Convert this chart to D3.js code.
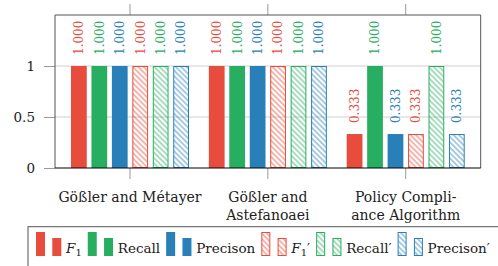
<!DOCTYPE html>
<html>
<head>
<meta charset="utf-8">
<script src="https://cdn.jsdelivr.net/npm/d3@7"></script>
<style>
  body { margin: 0; background: #fff; }
  text { font-family: "DejaVu Serif", serif; }
</style>
</head>
<body>
<div id="chart"></div>
<script>
const width = 498;
const height = 266;

// data
const categories = ['Gößler and Métayer', 'Gößler and Astefanoaei', 'Policy Compliance Algorithm'];
const categoryLines = [['Gößler and Métayer'], ['Gößler and', 'Astefanoaei'], ['Policy Compli-', 'ance Algorithm']];
const seriesNames = ['F1', 'Recall', 'Precison', "F1'", "Recall'", "Precison'"];
const f1 = [1.000, 1.000, 0.333];
const recall = [1.000, 1.000, 1.000];
const precision = [1.000, 1.000, 0.333];
const f1b = [1.000, 1.000, 0.333];
const recallb = [1.000, 1.000, 1.000];
const precisionb = [1.000, 1.000, 0.333];
const yTicks = [0, 0.5, 1];

const seriesValues = [f1, recall, precision, f1b, recallb, precisionb];
const colors = ['#e74c3c', '#27ae60', '#2980b9', '#e74c3c', '#27ae60', '#2980b9'];
const hatched = [false, false, false, true, true, true];

const plot = { left: 55, right: 480.7, top: 15, bottom: 168 };

let svg = d3.select('#chart').append('svg')
  .attr('width', width)
  .attr('height', height);

// hatch patterns
let defs = svg.append('defs');
['#e74c3c', '#27ae60', '#2980b9'].forEach((c, i) => {
  let p = defs.append('pattern')
    .attr('id', 'hatch' + i)
    .attr('patternUnits', 'userSpaceOnUse')
    .attr('width', 3.8)
    .attr('height', 3.8)
    .attr('patternTransform', 'rotate(-45)');
  p.append('line')
    .attr('x1', 1).attr('y1', 0)
    .attr('x2', 1).attr('y2', 3.8)
    .style('stroke', c)
    .style('stroke-width', 0.8);
});

// scales
let x = d3.scalePoint()
  .domain(categories)
  .range([plot.left, plot.right])
  .padding(0.544);

let xs = d3.scaleBand()
  .domain(seriesNames)
  .range([-59, 59])
  .paddingInner(0.23)
  .paddingOuter(0);

let y = d3.scaleLinear()
  .domain([0, 1.5])
  .range([plot.bottom, plot.top]);

// grid
svg.append('g')
  .selectAll('line')
  .data(yTicks.filter(d => d > 0))
  .join('line')
  .attr('x1', plot.left).attr('x2', plot.right)
  .attr('y1', d => y(d)).attr('y2', d => y(d))
  .style('stroke', '#cfcfcf')
  .style('stroke-width', 1);

// y axis
let yAxis = svg.append('g')
  .attr('transform', `translate(${plot.left},0)`)
  .call(d3.axisLeft(y).tickValues(yTicks).tickSize(11).tickPadding(9).tickFormat(d3.format('')));
yAxis.select('.domain').remove();
yAxis.selectAll('.tick line').style('stroke', '#999');
yAxis.selectAll('.tick text')
  .style('font-family', '"DejaVu Serif", serif')
  .style('font-size', '13.5px')
  .style('fill', '#222');

// x ticks above and below the frame
let xTicks = svg.append('g');
categories.forEach(c => {
  xTicks.append('line')
    .attr('x1', x(c)).attr('x2', x(c))
    .attr('y1', plot.top - 11).attr('y2', plot.top)
    .style('stroke', '#999');
  xTicks.append('line')
    .attr('x1', x(c)).attr('x2', x(c))
    .attr('y1', plot.bottom).attr('y2', plot.bottom + 11)
    .style('stroke', '#999');
});

// bars
seriesNames.forEach((s, si) => {
  let g = svg.append('g');
  let vals = seriesValues[si];
  g.selectAll('rect')
    .data(vals)
    .join('rect')
    .attr('x', (d, i) => x(categories[i]) + xs(s) + (hatched[si] ? 0.5 : 0))
    .attr('y', d => y(d) + (hatched[si] ? 0.5 : 0))
    .attr('width', xs.bandwidth() - (hatched[si] ? 1 : 0))
    .attr('height', d => y(0) - y(d) - (hatched[si] ? 1 : 0))
    .style('fill', hatched[si] ? `url(#hatch${si - 3})` : colors[si])
    .style('stroke', hatched[si] ? colors[si] : 'none')
    .style('stroke-width', 1);

  g.selectAll('text')
    .data(vals)
    .join('text')
    .attr('transform', (d, i) => `translate(${x(categories[i]) + xs(s) + xs.bandwidth() / 2},${y(d) - 11}) rotate(-90)`)
    .attr('dy', '0.36em')
    .text(d => d.toFixed(3))
    .style('font-size', '12px')
    .style('fill', colors[si]);
});

// frame
svg.append('path')
  .attr('d', `M${plot.left},${plot.bottom}V${plot.top}H${plot.right}V${plot.bottom}`)
  .style('fill', 'none')
  .style('stroke', '#555')
  .style('stroke-width', 1);
svg.append('line')
  .attr('x1', plot.left).attr('x2', plot.right)
  .attr('y1', plot.bottom).attr('y2', plot.bottom)
  .style('stroke', '#000')
  .style('stroke-width', 1.2);

// category labels
categories.forEach((c, i) => {
  let t = svg.append('text')
    .attr('x', x(c))
    .attr('y', 202)
    .attr('text-anchor', 'middle')
    .style('font-size', '14px')
    .style('fill', '#222');
  categoryLines[i].forEach((line, li) => {
    t.append('tspan')
      .attr('x', x(c))
      .attr('dy', li === 0 ? 0 : 17.5)
      .text(line);
  });
});

// legend
let legend = svg.append('g');
legend.append('rect')
  .attr('x', 28).attr('y', 226.7)
  .attr('width', 490).attr('height', 60)
  .style('fill', 'none')
  .style('stroke', '#555')
  .style('stroke-width', 1);

let lx = 36;
const legendBase = 256;
seriesNames.forEach((s, si) => {
  let fill = hatched[si] ? `url(#hatch${si - 3})` : colors[si];
  let stroke = hatched[si] ? colors[si] : 'none';
  let off = hatched[si] ? 0.5 : 0;
  legend.append('rect')
    .attr('x', lx + off).attr('y', legendBase - 24 + off)
    .attr('width', 9 - 2 * off).attr('height', 24 - 2 * off)
    .style('fill', fill).style('stroke', stroke);
  legend.append('rect')
    .attr('x', lx + 16.3 + off).attr('y', legendBase - 18 + off)
    .attr('width', 9 - 2 * off).attr('height', 18 - 2 * off)
    .style('fill', fill).style('stroke', stroke);
  let t = legend.append('text')
    .attr('x', lx + 30)
    .attr('y', 253.3)
    .style('font-size', '13.5px')
    .style('fill', '#222');
  let base = s.replace("'", '');
  if (base === 'F1') {
    t.append('tspan').text('F').style('font-style', 'italic');
    t.append('tspan').text('1').attr('dy', 3).style('font-size', '10px');
    if (s.endsWith("'")) t.append('tspan').text('′').attr('dy', -3);
  } else {
    t.text(base + (s.endsWith("'") ? '′' : ''));
  }
  lx = lx + 30 + t.node().getComputedTextLength() + 6;
});
</script>
</body>
</html>
